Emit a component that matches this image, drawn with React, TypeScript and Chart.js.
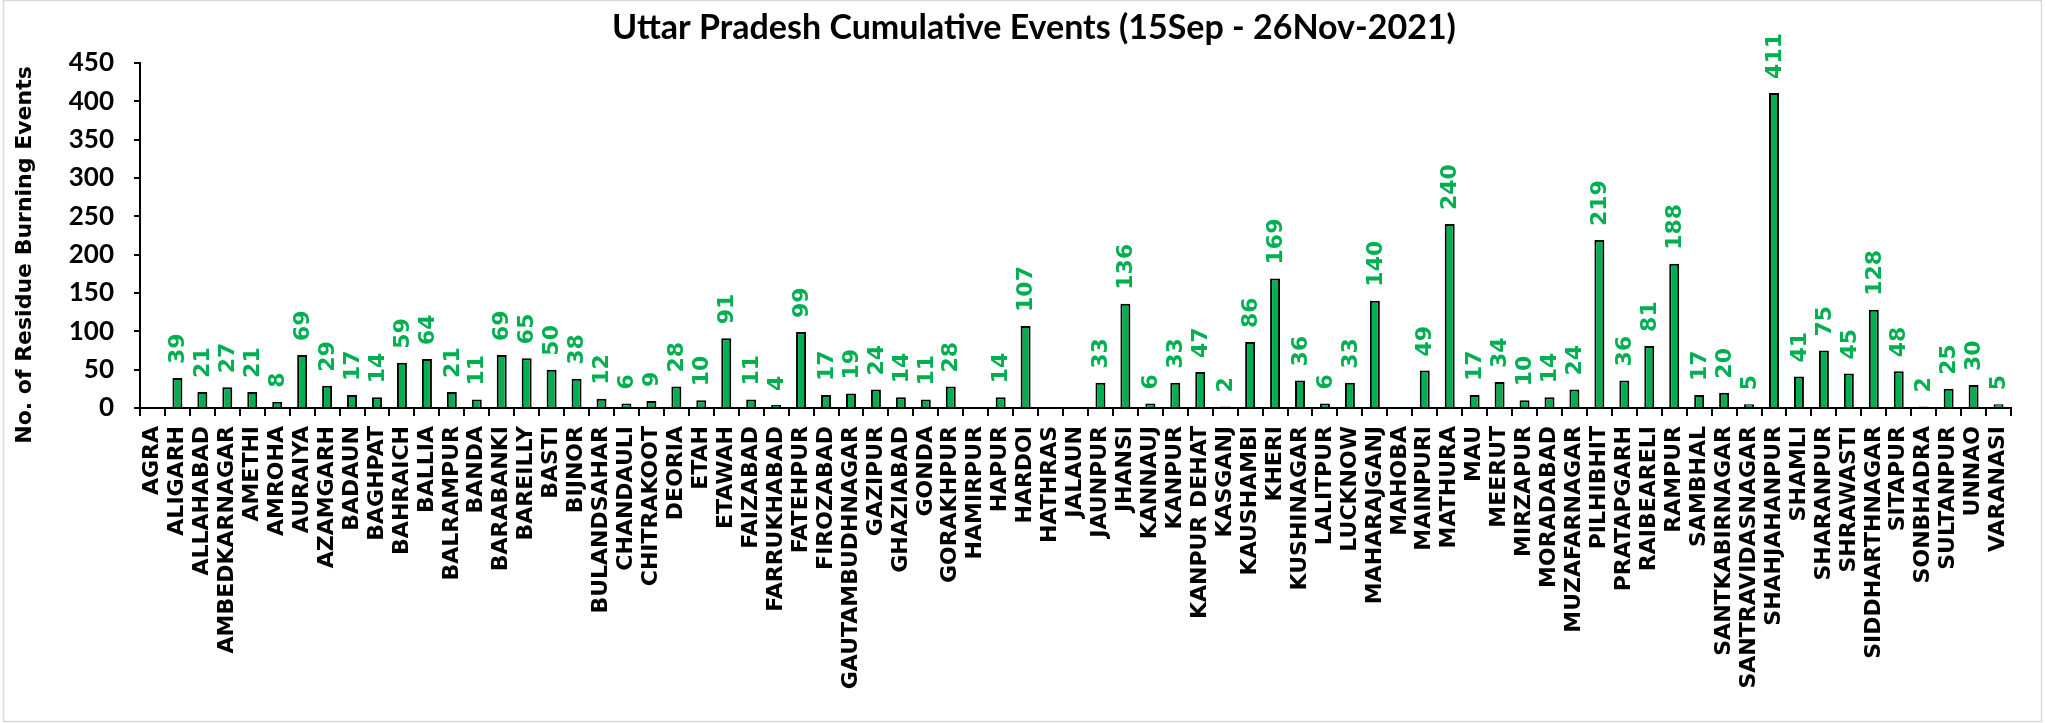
import React, { useEffect, useRef } from "react";
import { Chart, registerables } from "chart.js";

Chart.register(...registerables);

const chartTitle = "Uttar Pradesh Cumulative Events (15Sep - 26Nov-2021)";
const yAxisTitle = "No. of Residue Burning Events";

const districts = [
  "AGRA", "ALIGARH", "ALLAHABAD", "AMBEDKARNAGAR", "AMETHI", "AMROHA", "AURAIYA", "AZAMGARH",
  "BADAUN", "BAGHPAT", "BAHRAICH", "BALLIA", "BALRAMPUR", "BANDA", "BARABANKI", "BAREILLY",
  "BASTI", "BIJNOR", "BULANDSAHAR", "CHANDAULI", "CHITRAKOOT", "DEORIA", "ETAH", "ETAWAH",
  "FAIZABAD", "FARRUKHABAD", "FATEHPUR", "FIROZABAD", "GAUTAMBUDHNAGAR", "GAZIPUR", "GHAZIABAD",
  "GONDA", "GORAKHPUR", "HAMIRPUR", "HAPUR", "HARDOI", "HATHRAS", "JALAUN", "JAUNPUR", "JHANSI",
  "KANNAUJ", "KANPUR", "KANPUR DEHAT", "KASGANJ", "KAUSHAMBI", "KHERI", "KUSHINAGAR", "LALITPUR",
  "LUCKNOW", "MAHARAJGANJ", "MAHOBA", "MAINPURI", "MATHURA", "MAU", "MEERUT", "MIRZAPUR",
  "MORADABAD", "MUZAFARNAGAR", "PILHIBHIT", "PRATAPGARH", "RAIBEARELI", "RAMPUR", "SAMBHAL",
  "SANTKABIRNAGAR", "SANTRAVIDASNAGAR", "SHAHJAHANPUR", "SHAMLI", "SHARANPUR", "SHRAWASTI",
  "SIDDHARTHNAGAR", "SITAPUR", "SONBHADRA", "SULTANPUR", "UNNAO", "VARANASI",
];

const events = [
  0, 39, 21, 27, 21, 8, 69, 29,
  17, 14, 59, 64, 21, 11, 69, 65,
  50, 38, 12, 6, 9, 28, 10, 91,
  11, 4, 99, 17, 19, 24, 14,
  11, 28, 0, 14, 107, 0, 0, 33, 136,
  6, 33, 47, 2, 86, 169, 36, 6,
  33, 140, 0, 49, 240, 17, 34, 10,
  14, 24, 219, 36, 81, 188, 17,
  20, 5, 411, 41, 75, 45,
  128, 48, 2, 25, 30, 5,
];

const yMin = 0;
const yMax = 450;
const yStep = 50;

const GREEN = "#00B050";
const VERDANA_LIKE = "'DejaVu Sans'";

const decorPlugin = {
  id: "decor",
  beforeDraw(chart: any) {
    const ctx = chart.ctx;
    ctx.save();
    ctx.fillStyle = "#ffffff";
    ctx.fillRect(0, 0, chart.width, chart.height);
    ctx.strokeStyle = "#d9d9d9";
    ctx.lineWidth = 1.5;
    ctx.strokeRect(3.5, 0.5, chart.width - 7, chart.height - 2);
    ctx.restore();
  },
  afterDraw(chart: any) {
    const ctx = chart.ctx;
    ctx.save();
    ctx.fillStyle = "#000";
    ctx.font = "bold 34px Lato";
    ctx.textAlign = "center";
    ctx.textBaseline = "alphabetic";
    ctx.fillText(chartTitle, 1034, 39);

    ctx.translate(25, 255);
    ctx.rotate(-Math.PI / 2);
    ctx.font = `bold 22px ${VERDANA_LIKE}`;
    ctx.textAlign = "center";
    ctx.textBaseline = "middle";
    ctx.fillText(yAxisTitle, 0, 0);
    ctx.restore();
  },
  afterDatasetsDraw(chart: any) {
    const ctx = chart.ctx;
    const meta = chart.getDatasetMeta(0);
    const data = chart.data.datasets[0].data as number[];
    ctx.save();
    ctx.fillStyle = GREEN;
    ctx.font = `bold 22px ${VERDANA_LIKE}`;
    ctx.textAlign = "left";
    ctx.textBaseline = "middle";
    meta.data.forEach((bar: any, i: number) => {
      const v = data[i];
      if (!v) return;
      ctx.save();
      ctx.translate(bar.x, bar.y - 14);
      ctx.rotate(-Math.PI / 2);
      ctx.fillText(String(v), 0, 1);
      ctx.restore();
    });
    ctx.restore();
  },
};

export default function App() {
  const ref = useRef<HTMLCanvasElement | null>(null);

  useEffect(() => {
    if (!ref.current) return;
    const chart = new Chart(ref.current, {
      type: "bar",
      data: {
        labels: districts,
        datasets: [
          {
            data: events,
            backgroundColor: GREEN,
            borderColor: "#000",
            borderWidth: 2,
            barPercentage: 0.4,
            categoryPercentage: 1,
          },
        ],
      },
      options: {
        responsive: false,
        animation: false,
        layout: { padding: { top: 63, left: 0, right: 34, bottom: 0 } },
        plugins: {
          legend: { display: false },
          title: { display: false },
          tooltip: { enabled: false },
        },
        scales: {
          x: {
            afterFit(scale: any) {
              scale.height = 723 - 408;
            },
            grid: {
              offset: true,
              drawOnChartArea: false,
              drawTicks: true,
              tickLength: 8,
              color: "#000",
              lineWidth: 2,
            },
            border: { display: true, color: "#000", width: 2 },
            ticks: {
              autoSkip: false,
              minRotation: 90,
              maxRotation: 90,
              padding: 10,
              color: "#000",
              font: { family: VERDANA_LIKE, size: 22, weight: "bold" },
            },
          },
          y: {
            min: yMin,
            max: yMax,
            afterFit(scale: any) {
              scale.width = 140;
            },
            grid: {
              drawOnChartArea: false,
              drawTicks: true,
              tickLength: 6,
              color: "#000",
              lineWidth: 2,
            },
            border: { display: true, color: "#000", width: 2 },
            ticks: {
              stepSize: yStep,
              padding: 20,
              color: "#000",
              font: { family: "Lato", size: 26, weight: "bold" },
            },
          },
        },
      },
      plugins: [decorPlugin],
    });
    return () => chart.destroy();
  }, []);

  return (
    <div style={{ position: "absolute", left: 0, top: 0, width: 2045, height: 723 }}>
      <canvas ref={ref} width={2045} height={723} style={{ display: "block" }} />
    </div>
  );
}
